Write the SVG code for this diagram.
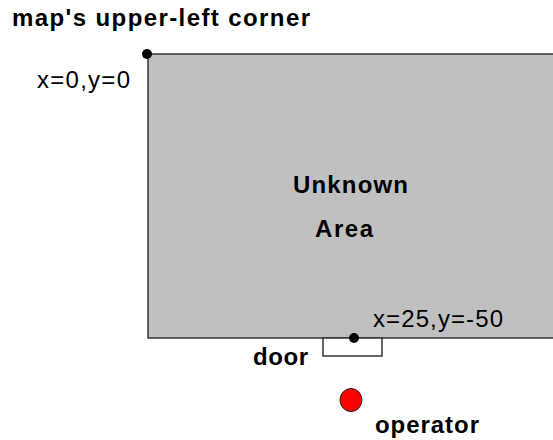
<svg xmlns="http://www.w3.org/2000/svg" width="553" height="440" viewBox="0 0 553 440">
<style>
.t{font-family:"Liberation Sans",Arial,sans-serif;fill:#000}
.b{font-weight:bold}
.dot{fill:#000}
</style>
<rect x="0" y="0" width="553" height="440" fill="#fff"/>
<g id="area">
<rect x="148" y="54" width="420" height="284" fill="#c0c0c0" stroke="#333" stroke-width="1.5"/>
<text class="t b" x="293" y="193" font-size="24" textLength="115" lengthAdjust="spacing">Unknown</text>
<text class="t b" x="315" y="237" font-size="24" textLength="58" lengthAdjust="spacing">Area</text>
</g>
<g id="corner">
<circle class="dot" cx="147" cy="54" r="5"/>
<text class="t b" x="12" y="26" font-size="24" textLength="298" lengthAdjust="spacing">map's upper-left corner</text>
<text class="t" x="37" y="88" font-size="24" textLength="93" lengthAdjust="spacing">x=0,y=0</text>
</g>
<g id="door">
<rect x="323" y="338" width="59" height="18" fill="#fff" stroke="#333" stroke-width="1.5"/>
<circle class="dot" cx="354" cy="338" r="5"/>
<text class="t" x="373" y="327" font-size="24" textLength="130" lengthAdjust="spacing">x=25,y=-50</text>
<text class="t b" x="253" y="365" font-size="24" textLength="55" lengthAdjust="spacing">door</text>
</g>
<g id="operator">
<ellipse cx="351" cy="400" rx="11" ry="11.5" fill="#f00" stroke="#222" stroke-width="1"/>
<text class="t b" x="375" y="433" font-size="24" textLength="104" lengthAdjust="spacing">operator</text>
</g>
<g id="connectors"></g>
</svg>
